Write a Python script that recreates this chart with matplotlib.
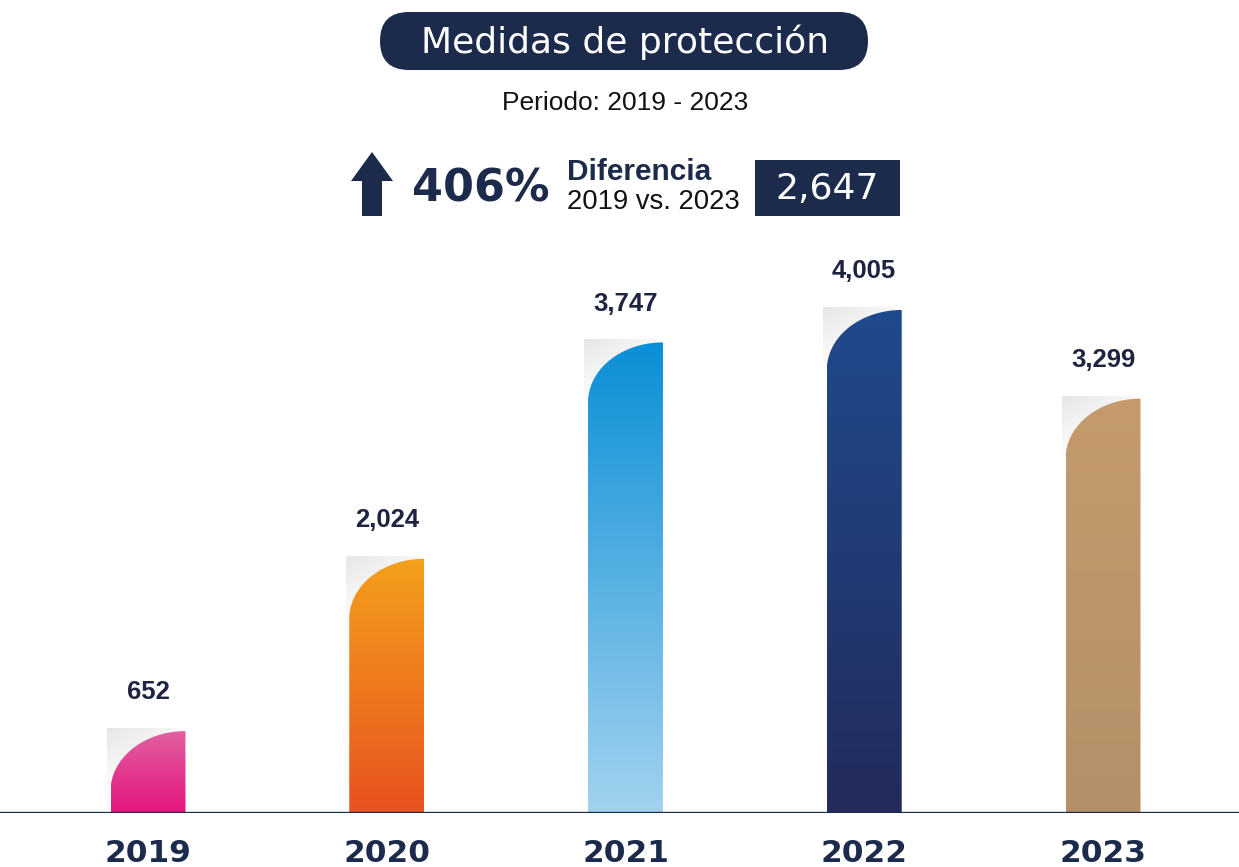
import numpy as np
import matplotlib
matplotlib.use("Agg")
import matplotlib.pyplot as plt
from matplotlib.path import Path as MPath
from matplotlib.patches import PathPatch, FancyBboxPatch, Polygon, Rectangle
from matplotlib.colors import LinearSegmentedColormap

# --- data ---
YEARS = ["2019", "2020", "2021", "2022", "2023"]
VALUES = [652, 2024, 3747, 4005, 3299]
TOP_COLORS = ["#e0609f", "#f4a01c", "#0a8fd6", "#1f4a8e", "#c59b6d"]
BOTTOM_COLORS = ["#e6157f", "#e8521f", "#a3d2ef", "#232b5a", "#b48f68"]

TITLE = "Medidas de protección"
SUBTITLE = "Periodo: 2019 - 2023"
PCT_CHANGE = "406%"
DIFF_LABEL = "Diferencia"
DIFF_PERIOD = "2019 vs. 2023"
DIFF_VALUE = 2647

W, H = 1239, 867
NAVY = "#1c2b4b"
TEXT_DARK = "#1d2340"

BAR_W = 0.314
CORNER_PX = 60  # vertical radius of the rounded top-left corner
YMAX = 4400


def rounded_bar_path(x0, w, h, ry):
    ry = min(ry, h)
    x1 = x0 + w
    t = np.linspace(np.pi / 2, np.pi, 40)
    arc_x = x1 + w * np.cos(t)
    arc_y = (h - ry) + ry * np.sin(t)
    verts = [(x0, 0), (x1, 0), (x1, h)] + list(zip(arc_x, arc_y)) + [(x0, 0)]
    codes = [MPath.MOVETO] + [MPath.LINETO] * (len(verts) - 2) + [MPath.CLOSEPOLY]
    return MPath(verts, codes)


fig = plt.figure(figsize=(W / 100, H / 100), dpi=100)
fig.patch.set_facecolor("white")

# bar axes: baseline at y=813 px from top
ax_bottom = (H - 813) / H
ax_height = 0.6374
ax = fig.add_axes([0, ax_bottom, 1, ax_height])
ax.set_facecolor("none")
xlim = (-148 / 238.75, (W - 148) / 238.75)
ax.set_xlim(*xlim)
ax.set_ylim(0, YMAX)

x = np.arange(len(YEARS))
bars = ax.bar(x, VALUES, width=BAR_W, color="none", edgecolor="none")

units_per_px = YMAX / (ax_height * H)
ry = CORNER_PX * units_per_px
grad = np.linspace(0, 1, 256).reshape(-1, 1)
shade = np.outer(np.linspace(0, 1, 64), np.linspace(1, 0.3, 64))
shade_cmap = LinearSegmentedColormap.from_list("sh", ["#ffffff", "#e6e6e6"])

for rect, top_c, bot_c, v in zip(bars, TOP_COLORS, BOTTOM_COLORS, VALUES):
    x0, w, h = rect.get_x(), rect.get_width(), rect.get_height()
    r = min(ry, h)
    # soft grey shadow behind the rounded corner
    ax.imshow(shade, extent=[x0 - w * 0.05, x0 + w * 0.9, h - r, h + r * 0.05],
              origin="lower", cmap=shade_cmap, aspect="auto", zorder=1,
              interpolation="bilinear")
    patch = PathPatch(rounded_bar_path(x0, w, h, ry), facecolor="none", edgecolor="none")
    ax.add_patch(patch)
    cmap = LinearSegmentedColormap.from_list("g", [bot_c, top_c])
    im = ax.imshow(grad, extent=[x0, x0 + w, 0, h], origin="lower", cmap=cmap,
                   aspect="auto", zorder=2, interpolation="bilinear")
    im.set_clip_path(patch)
    ax.annotate(f"{v:,}", (x0 + w / 2, h), xytext=(0, 28), textcoords="offset points",
                ha="center", va="center", fontsize=18.5, fontweight="bold",
                color=TEXT_DARK, family="Liberation Sans")

ax.set_xlim(*xlim)
ax.set_ylim(0, YMAX)
ax.axhline(0, color=NAVY, linewidth=2.4, zorder=3)
for s in ax.spines.values():
    s.set_visible(False)
ax.set_yticks([])
ax.set_xticks(x)
ax.set_xticklabels(YEARS, fontsize=22.5, fontweight="bold", color=NAVY)
ax.tick_params(axis="x", length=0, pad=19)

# header overlay in pixel coordinates
hx = fig.add_axes([0, 0, 1, 1])
hx.set_xlim(0, W)
hx.set_ylim(H, 0)
hx.axis("off")
hx.patch.set_alpha(0)

hx.add_patch(FancyBboxPatch((380, 12), 488, 58, boxstyle="round,pad=0,rounding_size=29",
                            facecolor=NAVY, edgecolor="none"))
hx.text(625, 42, TITLE, ha="center", va="center", fontsize=26, color="white")
hx.text(625, 103, SUBTITLE, ha="center", va="center", fontsize=19,
        color="#111111", family="Liberation Sans")

# up arrow
hx.add_patch(Polygon([(372, 152), (393, 181), (382, 181), (382, 216),
                      (362, 216), (362, 181), (351, 181)], closed=True,
                     facecolor=NAVY, edgecolor="none"))
hx.text(412, 189, PCT_CHANGE, ha="left", va="center", fontsize=32,
        fontweight="bold", color=NAVY)
hx.text(567, 172, DIFF_LABEL, ha="left", va="center", fontsize=21.5,
        fontweight="bold", color=NAVY, family="Liberation Sans")
hx.text(567, 202, DIFF_PERIOD, ha="left", va="center", fontsize=19.8,
        color="#111111", family="Liberation Sans")
hx.add_patch(Rectangle((755, 160), 145, 56, facecolor=NAVY, edgecolor="none"))
hx.text(827, 189, f"{DIFF_VALUE:,}", ha="center", va="center", fontsize=26, color="white")

fig.savefig("out.png", dpi=100, facecolor="white")
